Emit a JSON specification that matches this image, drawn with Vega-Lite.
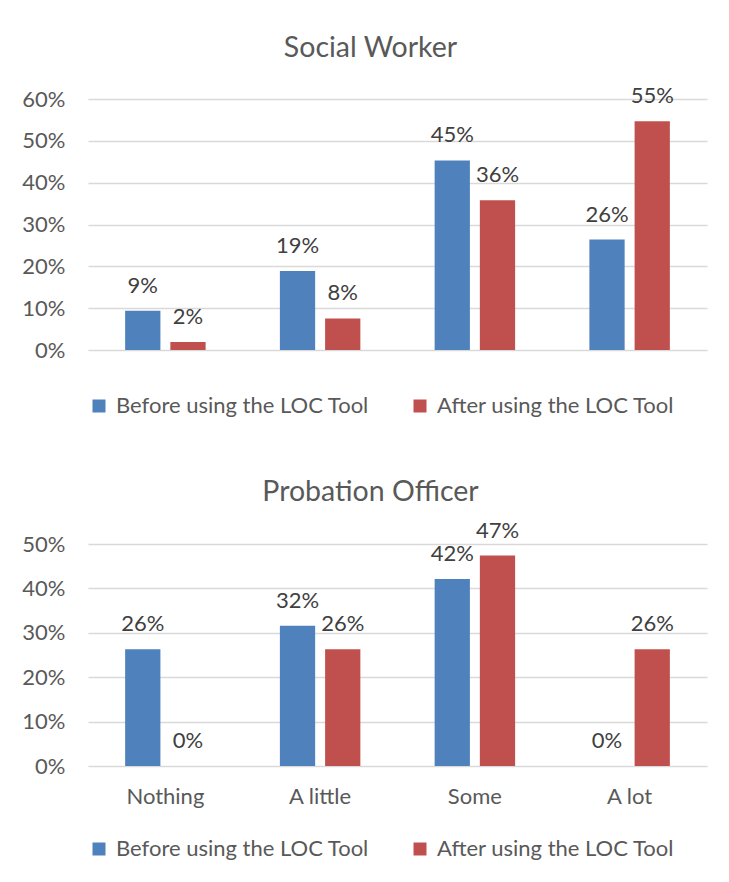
{
  "$schema": "https://vega.github.io/schema/vega-lite/v6.json",
  "background": "white",
  "padding": {"left": 21, "top": 33, "right": 5, "bottom": 5},
  "config": {
    "font": "Lato",
    "view": {"stroke": null},
    "axis": {
      "labelFont": "Lato",
      "labelFontSize": 22,
      "labelColor": "#595959",
      "gridColor": "#d9d9d9",
      "gridWidth": 1.5,
      "domain": false,
      "ticks": false,
      "title": null
    },
    "legend": {
      "orient": "bottom",
      "direction": "horizontal",
      "title": null,
      "symbolType": "square",
      "symbolSize": 169,
      "symbolStrokeWidth": 0,
      "labelFont": "Lato",
      "labelFontSize": 22,
      "labelColor": "#595959",
      "labelOffset": 6,
      "labelLimit": 400,
      "columnPadding": 40
    },
    "title": {"font": "Lato", "fontSize": 28.5, "fontWeight": "normal", "color": "#595959"},
    "concat": {"spacing": 61}
  },
  "datasets": {
    "sw": [
      {"level": "Nothing", "when": "Before using the LOC Tool", "pct": 0.094},
      {"level": "Nothing", "when": "After using the LOC Tool", "pct": 0.019},
      {"level": "A little", "when": "Before using the LOC Tool", "pct": 0.189},
      {"level": "A little", "when": "After using the LOC Tool", "pct": 0.0755},
      {"level": "Some", "when": "Before using the LOC Tool", "pct": 0.453},
      {"level": "Some", "when": "After using the LOC Tool", "pct": 0.358},
      {"level": "A lot", "when": "Before using the LOC Tool", "pct": 0.264},
      {"level": "A lot", "when": "After using the LOC Tool", "pct": 0.547}
    ],
    "po": [
      {"level": "Nothing", "when": "Before using the LOC Tool", "pct": 0.263},
      {"level": "Nothing", "when": "After using the LOC Tool", "pct": 0},
      {"level": "A little", "when": "Before using the LOC Tool", "pct": 0.316},
      {"level": "A little", "when": "After using the LOC Tool", "pct": 0.263},
      {"level": "Some", "when": "Before using the LOC Tool", "pct": 0.421},
      {"level": "Some", "when": "After using the LOC Tool", "pct": 0.474},
      {"level": "A lot", "when": "Before using the LOC Tool", "pct": 0},
      {"level": "A lot", "when": "After using the LOC Tool", "pct": 0.263}
    ]
  },
  "resolve": {"scale": {"color": "independent"}, "legend": {"color": "independent"}},
  "vconcat": [
    {
      "width": 619,
      "height": 251,
      "title": {"text": "Social Worker", "anchor": "middle", "dx": -27, "offset": 23},
      "data": {"name": "sw"},
      "encoding": {
        "x": {
          "field": "level", "type": "nominal",
          "sort": ["Nothing", "A little", "Some", "A lot"],
          "scale": {"paddingInner": 0.48, "paddingOuter": 0.24},
          "axis": {"labels": false, "grid": false}
        },
        "xOffset": {
          "field": "when", "type": "nominal",
          "sort": ["Before using the LOC Tool", "After using the LOC Tool"],
          "scale": {"paddingInner": 0.22, "paddingOuter": 0}
        },
        "y": {
          "field": "pct", "type": "quantitative",
          "scale": {"domain": [0, 0.6]},
          "axis": {"format": ".0%", "values": [0, 0.1, 0.2, 0.3, 0.4, 0.5, 0.6], "labelPadding": 23}
        }
      },
      "layer": [
        {
          "mark": {"type": "bar"},
          "encoding": {
            "color": {
              "field": "when", "type": "nominal",
              "sort": ["Before using the LOC Tool", "After using the LOC Tool"],
              "scale": {"range": ["#4f81bd", "#c0504d"]},
              "legend": {"offset": 45}
            }
          }
        },
        {
          "mark": {"type": "text", "baseline": "alphabetic", "dy": -18, "fontSize": 22, "color": "#404040"},
          "encoding": {"text": {"field": "pct", "type": "quantitative", "format": ".0%"}}
        }
      ]
    },
    {
      "width": 619,
      "height": 222,
      "title": {"text": "Probation Officer", "anchor": "middle", "dx": -27, "offset": 13},
      "data": {"name": "po"},
      "encoding": {
        "x": {
          "field": "level", "type": "nominal",
          "sort": ["Nothing", "A little", "Some", "A lot"],
          "scale": {"paddingInner": 0.48, "paddingOuter": 0.24},
          "axis": {"labelAngle": 0, "labelPadding": 20, "grid": false}
        },
        "xOffset": {
          "field": "when", "type": "nominal",
          "sort": ["Before using the LOC Tool", "After using the LOC Tool"],
          "scale": {"paddingInner": 0.22, "paddingOuter": 0}
        },
        "y": {
          "field": "pct", "type": "quantitative",
          "scale": {"domain": [0, 0.5]},
          "axis": {"format": ".0%", "values": [0, 0.1, 0.2, 0.3, 0.4, 0.5], "labelPadding": 23}
        }
      },
      "layer": [
        {
          "mark": {"type": "bar"},
          "encoding": {
            "color": {
              "field": "when", "type": "nominal",
              "sort": ["Before using the LOC Tool", "After using the LOC Tool"],
              "scale": {"range": ["#4f81bd", "#c0504d"]},
              "legend": {"offset": 31}
            }
          }
        },
        {
          "mark": {"type": "text", "baseline": "alphabetic", "dy": -18, "fontSize": 22, "color": "#404040"},
          "encoding": {"text": {"field": "pct", "type": "quantitative", "format": ".0%"}}
        }
      ]
    }
  ]
}
